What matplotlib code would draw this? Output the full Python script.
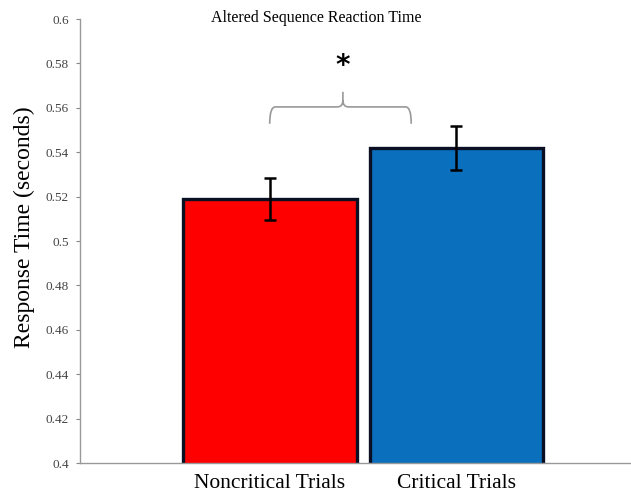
import numpy as np
import matplotlib.pyplot as plt
from matplotlib.path import Path
from matplotlib.patches import PathPatch

plt.rcParams['font.family'] = ['Liberation Serif', 'DejaVu Serif']

conditions = ["Noncritical Trials", "Critical Trials"]
mean_rt = [0.519, 0.542]
sem_rt = [0.0095, 0.0100]
bar_colors = ["#ff0000", "#0a6fbd"]
y_ticks = [0.4, 0.42, 0.44, 0.46, 0.48, 0.5, 0.52, 0.54, 0.56, 0.58, 0.6]
y_tick_labels = ["0.4", "0.42", "0.44", "0.46", "0.48", "0.5", "0.52", "0.54", "0.56", "0.58", "0.6"]

fig = plt.figure(figsize=(6.31, 4.96), dpi=100)
ax = fig.add_axes([80 / 631, 1 - 463 / 496, 1 - 80 / 631, (463 - 19) / 496])

x = np.arange(1, len(conditions) + 1)
ax.bar(x, mean_rt, width=0.93, color=bar_colors, edgecolor="#0b0f24",
       linewidth=2.4, zorder=2)
ax.errorbar(x, mean_rt, yerr=sem_rt, fmt="none", ecolor="black",
            elinewidth=1.8, capsize=4, capthick=1.8, zorder=3)

ax.set_ylim(0.4, 0.6)
ax.set_xlim(-0.016, 2.935)
ax.set_yticks(y_ticks)
ax.set_yticklabels(y_tick_labels)
ax.set_xticks(x)
ax.set_xticklabels(conditions, fontsize=15.5)
ax.tick_params(axis="x", length=0, pad=8)
ax.tick_params(axis="y", length=3, width=0.8, colors="#888888",
               labelcolor="#444444", labelsize=9.5, pad=5)

for side in ["top", "right"]:
    ax.spines[side].set_visible(False)
for side in ["left", "bottom"]:
    ax.spines[side].set_color("#999999")
    ax.spines[side].set_linewidth(1.0)

ax.set_ylabel("Response Time (seconds)", fontsize=17, labelpad=8, y=0.53)
fig.text(316 / 631, 1 - 18 / 496, "Altered Sequence Reaction Time",
         ha="center", va="center", fontsize=11.5)

# significance brace
xl, xr, xm = 1.0, 1.758, 1.392
y_end, y_bar, y_peak = 0.5528, 0.5604, 0.5672
r = 0.03
verts = [
    (xl, y_end), (xl, y_bar), (xl + r, y_bar),
    (xm - r, y_bar), (xm, y_bar), (xm, y_bar + 0.003),
    (xm, y_peak),
    (xm, y_bar + 0.003), (xm, y_bar), (xm + r, y_bar),
    (xr - r, y_bar), (xr, y_bar), (xr, y_end),
]
codes = [
    Path.MOVETO, Path.CURVE3, Path.CURVE3,
    Path.LINETO, Path.CURVE3, Path.CURVE3,
    Path.LINETO,
    Path.MOVETO, Path.CURVE3, Path.CURVE3,
    Path.LINETO, Path.CURVE3, Path.CURVE3,
]
ax.add_patch(PathPatch(Path(verts, codes), facecolor="none",
                       edgecolor="#999999", linewidth=1.2, clip_on=False))
ax.text(xm, 0.5788, "*", ha="center", va="center", fontsize=20,
        family="DejaVu Sans", fontweight="bold")

fig.savefig("out.png", dpi=100)
